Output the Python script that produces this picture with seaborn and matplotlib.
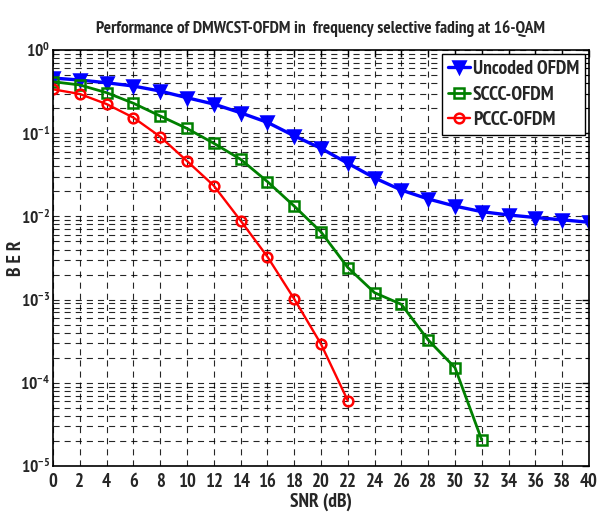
import numpy as np
import pandas as pd
import matplotlib
matplotlib.use("Agg")
import matplotlib.pyplot as plt
from matplotlib.ticker import FixedLocator, LogLocator, NullFormatter
import seaborn as sns

# ─── Data ────────────────────────────────────────────────────────────────────

SNR_UNCODED = [0, 2, 4, 6, 8, 10, 12, 14, 16, 18, 20, 22, 24, 26, 28, 30, 32, 34, 36, 38, 40]
BER_UNCODED = [0.46, 0.436, 0.404, 0.369, 0.321, 0.267, 0.224, 0.176, 0.135, 0.093,
               0.0658, 0.0435, 0.029, 0.0207, 0.0162, 0.0133, 0.0114, 0.0104,
               0.0097, 0.0091, 0.0085]

SNR_SCCC = [0, 2, 4, 6, 8, 10, 12, 14, 16, 18, 20, 22, 24, 26, 28, 30, 32]
BER_SCCC = [0.416, 0.38, 0.307, 0.229, 0.161, 0.114, 0.0756, 0.0486, 0.0262, 0.0133,
            0.0065, 0.00243, 0.00121, 0.000877, 0.000327, 0.000152, 2.05e-5]

SNR_PCCC = [0, 2, 4, 6, 8, 10, 12, 14, 16, 18, 20, 22]
BER_PCCC = [0.337, 0.296, 0.224, 0.154, 0.0908, 0.0463, 0.0234, 0.0089, 0.00328,
            0.00102, 0.000292, 6.1e-5]

X_TICKS = list(range(0, 41, 2))
Y_DECADES = [-5, -4, -3, -2, -1, 0]

TITLE = "Performance of DMWCST-OFDM in  frequency selective fading at 16-QAM"

# ─── Style ───────────────────────────────────────────────────────────────────

sns.set_style("white")
FONT = ["PT Sans Narrow", "Roboto Condensed", "Liberation Sans", "DejaVu Sans"]
plt.rcParams["font.family"] = FONT
plt.rcParams["font.weight"] = "bold"
plt.rcParams["mathtext.fontset"] = "custom"
plt.rcParams["mathtext.rm"] = "PT Sans Narrow:bold"
plt.rcParams["mathtext.bf"] = "PT Sans Narrow:bold"
plt.rcParams["mathtext.default"] = "bf"

fig = plt.figure(figsize=(6.01, 5.14), dpi=100)
ax = fig.add_axes([0.0882, 0.0934, 0.8918, 0.8093])

series = [
    ("Uncoded OFDM", SNR_UNCODED, BER_UNCODED, "#0000FF", "v", 2.4, 8.5, "#0000FF"),
    ("SCCC-OFDM", SNR_SCCC, BER_SCCC, "#008000", "s", 2.0, 6.5, "none"),
    ("PCCC-OFDM", SNR_PCCC, BER_PCCC, "#FF0000", "o", 1.7, 7, "none"),
]
for label, x, y, color, mk, lw, ms, mfc in series:
    df = pd.DataFrame({"snr": x, "ber": y})
    sns.lineplot(data=df, x="snr", y="ber", ax=ax, color=color, lw=lw,
                 marker=mk, markersize=ms, markerfacecolor=mfc,
                 markeredgecolor=color, markeredgewidth=1.8,
                 label=label, errorbar=None)

ax.set_yscale("log")
ax.set_xlim(0, 40)
ax.set_ylim(1e-5, 1)

ax.xaxis.set_major_locator(FixedLocator(X_TICKS))
ax.set_xticklabels([str(t) for t in X_TICKS])
ax.yaxis.set_major_locator(FixedLocator([10.0 ** d for d in Y_DECADES]))
ax.set_yticklabels([r"$10^{%d}$" % d for d in Y_DECADES])
ax.yaxis.set_minor_locator(LogLocator(base=10, subs=np.arange(2, 10), numticks=50))
ax.yaxis.set_minor_formatter(NullFormatter())

ax.tick_params(axis="both", which="both", direction="in", top=True, right=True,
               color="black")
ax.tick_params(axis="x", which="major", length=5, width=1, pad=5, labelsize=13.5)
ax.tick_params(axis="y", which="major", length=5, width=1, pad=2, labelsize=12.5)
ax.tick_params(axis="y", which="minor", length=3, width=0.8)
for lab in ax.get_xticklabels() + ax.get_yticklabels():
    lab.set_fontweight("bold")

grid_kw = dict(color="black", lw=0.8, alpha=0.85, dashes=(5.5, 4.5))
ax.grid(True, which="major", axis="both", **grid_kw)
ax.grid(True, which="minor", axis="y", **grid_kw)

for sp in ax.spines.values():
    sp.set_color("black")
    sp.set_linewidth(1.2)

ax.set_title(TITLE, fontsize=12.5, fontweight="bold", pad=12)
ax.set_xlabel("SNR (dB)", fontsize=14, fontweight="bold", labelpad=1)
ax.set_ylabel("B E R", fontsize=14, fontweight="bold")
ax.yaxis.set_label_coords(-0.052, 0.5)

leg = ax.legend(loc="upper right", fontsize=14, frameon=True, fancybox=False,
                handlelength=1.15, handletextpad=0.15, borderpad=0.3,
                labelspacing=0.4, borderaxespad=0.2)
leg.get_frame().set_edgecolor("black")
leg.get_frame().set_linewidth(1.0)
leg.get_frame().set_alpha(1)
for t in leg.get_texts():
    t.set_fontweight("bold")

fig.savefig("out.png", dpi=100)
